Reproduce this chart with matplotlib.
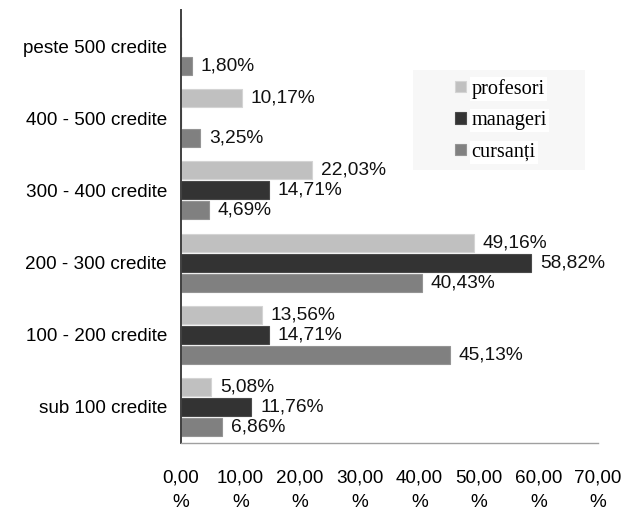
import matplotlib
matplotlib.use("Agg")
import matplotlib.pyplot as plt
import numpy as np
from matplotlib.patches import Rectangle

plt.rcParams['font.family'] = ['Liberation Sans', 'DejaVu Sans']

categories = ["peste 500 credite", "400 - 500 credite", "300 - 400 credite",
              "200 - 300 credite", "100 - 200 credite", "sub 100 credite"]
series_names = ["profesori", "manageri", "cursanți"]
profesori = [0.0, 10.17, 22.03, 49.16, 13.56, 5.08]
manageri = [0.0, 0.0, 14.71, 58.82, 14.71, 11.76]
cursanti = [1.80, 3.25, 4.69, 40.43, 45.13, 6.86]
xticks = [0, 10, 20, 30, 40, 50, 60, 70]

series = [profesori, manageri, cursanti]
faces = ['#c0c0c0', '#333333', '#808080']
edges = ['#d4d4d4', '#4a4a4a', '#949494']
offsets = [-0.277, 0.0, 0.277]

fig = plt.figure(figsize=(6.24, 5.11), dpi=100)
ax = fig.add_axes([181/624, 1-443/511, 417/624, 433/511])

y = np.arange(len(categories))
for vals, name, fc, ec, off in zip(series, series_names, faces, edges, offsets):
    bars = ax.barh(y + off, vals, height=0.25, color=fc, edgecolor=ec,
                   linewidth=0.8, label=name)
    labels = ["" if v == 0 else f"{v:.2f}".replace('.', ',') + "%" for v in vals]
    ax.bar_label(bars, labels=labels, padding=6.5, fontsize=13.8, color='#111111')

ax.set_ylim(-0.5, len(categories) - 0.5)
ax.invert_yaxis()
ax.set_xlim(0, 70)
ax.set_yticks(y)
ax.set_yticklabels(categories, fontsize=13.6)
ax.set_xticks(xticks)
ax.set_xticklabels([f"{v:.2f}".replace('.', ',') + "\n%" for v in xticks],
                   fontsize=13.6, linespacing=1.55)
ax.tick_params(axis='x', length=0, pad=19)
ax.tick_params(axis='y', length=0, pad=10)
for s in ['top', 'right']:
    ax.spines[s].set_visible(False)
ax.spines['left'].set_color('#404040')
ax.spines['left'].set_linewidth(1.4)
ax.spines['bottom'].set_color('#a0a0a0')
ax.spines['bottom'].set_linewidth(1.0)

# legend background
ax.add_patch(Rectangle((0.556, 0.630), 0.413, 0.231, transform=ax.transAxes,
                       facecolor='#f7f7f7', edgecolor='none', zorder=3, clip_on=False))
leg = ax.legend(loc='upper left', bbox_to_anchor=(0.624, 0.874), frameon=False,
                prop={'family': 'Liberation Serif', 'size': 14.6},
                handlelength=0.5, handleheight=0.5, handletextpad=0.3,
                labelspacing=0.62, borderpad=0.2)
leg.set_zorder(4)
for t in leg.get_texts():
    t.set_bbox(dict(facecolor='white', edgecolor='none', pad=1.5))

fig.savefig("out.png", dpi=100)
